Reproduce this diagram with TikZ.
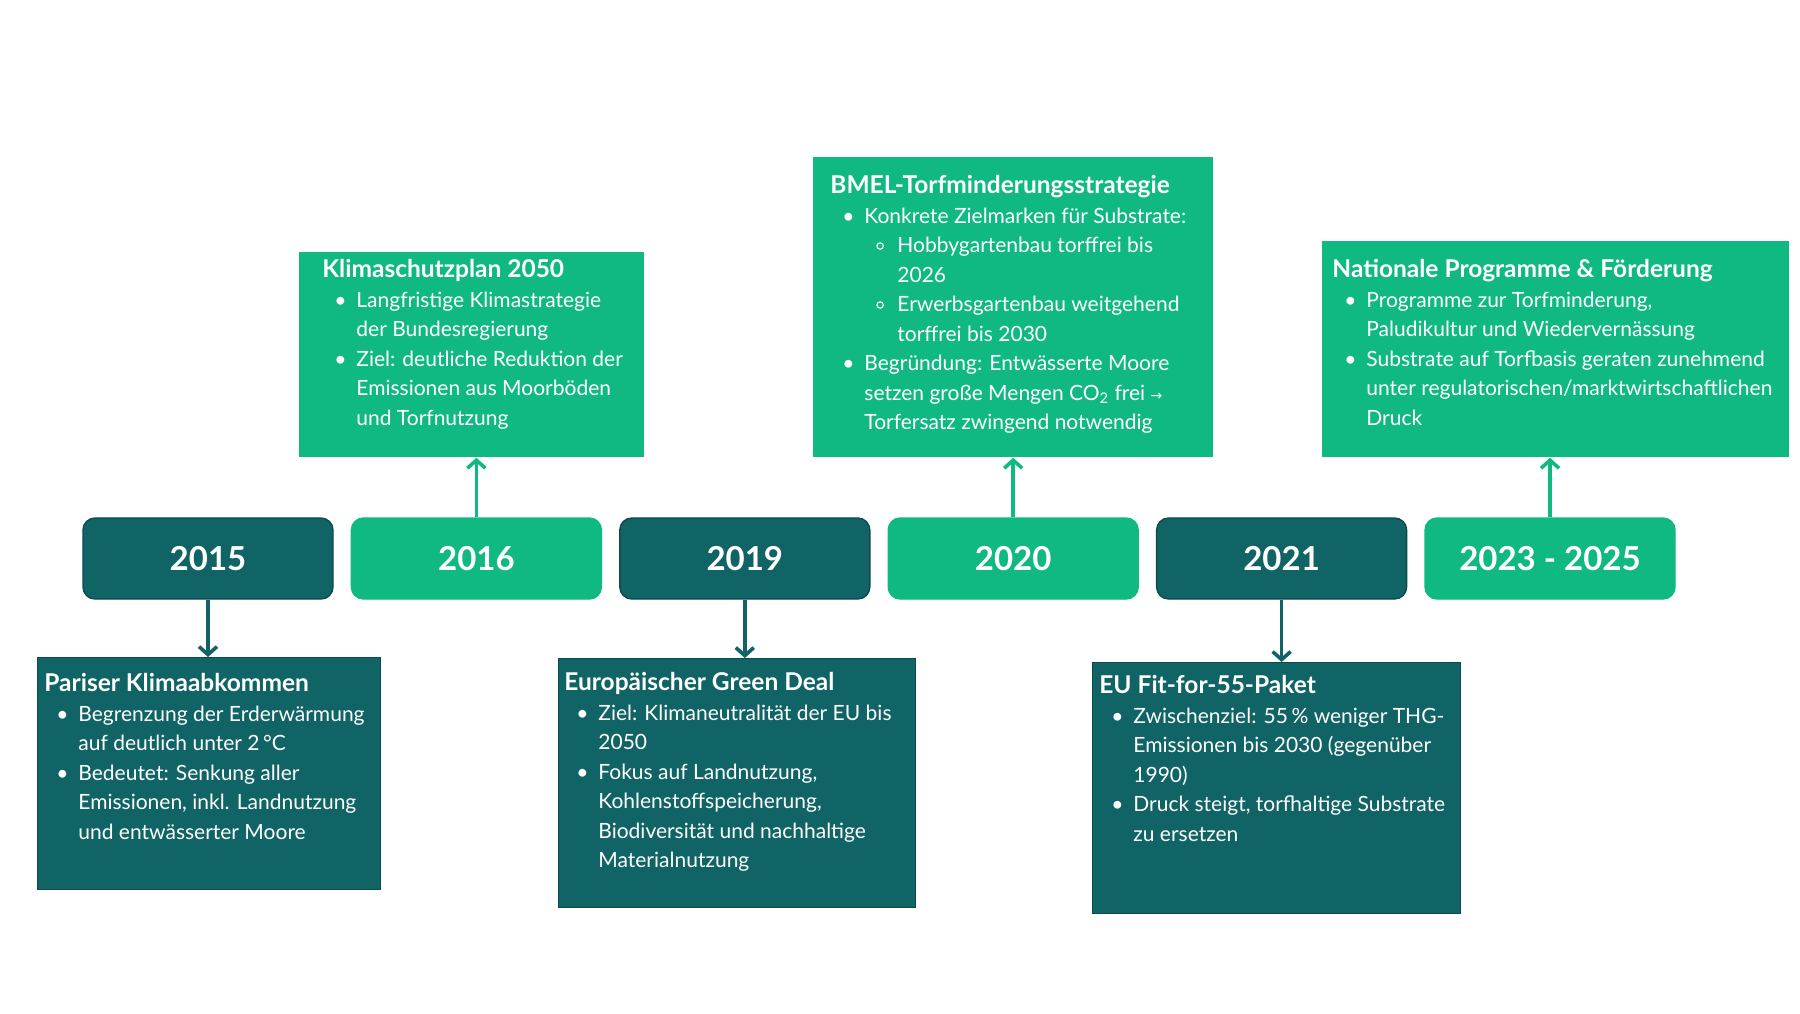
\documentclass[tikz,border=0pt]{standalone}
\usepackage{fontspec}
\setmainfont{Lato}
\newfontfamily\symfont{DejaVu Sans}
\usetikzlibrary{arrows.meta, positioning, backgrounds}
\definecolor{moorteal}{HTML}{116466}
\definecolor{tealedge}{HTML}{0B4B4D}
\definecolor{moorgreen}{HTML}{10B981}
\definecolor{linegray}{HTML}{E6EAED}
\tikzset{>=latex}
\newcommand{\cardtitle}[1]{{\fontsize{12.25}{14.75}\selectfont\bfseries #1}}
\newcommand{\itembul}{\hspace*{6pt}\makebox[11pt][l]{\textbullet}}
\newcommand{\contline}{\hspace*{17pt}}
\newcommand{\subbul}{\hspace*{23pt}\makebox[10.5pt][l]{\tikz[baseline=-3.3pt]\draw[white, line width=0.55pt] (0,0) circle (1.6pt);}}
\newcommand{\subline}{\hspace*{33.5pt}}
\tikzset{
  year/.style={rounded corners=6pt, minimum width=125pt, minimum height=40.5pt, inner sep=0pt,
    text=white, font=\fontsize{16.5}{20}\selectfont\bfseries},
  yeardark/.style={year, fill=moorteal, draw=tealedge, line width=0.7pt},
  yeargreen/.style={year, fill=moorgreen, draw=moorgreen, line width=0.7pt},
  card/.style={anchor=north west, inner sep=0pt},
  carddark/.style={card, fill=moorteal, draw=tealedge, line width=0.5pt},
  cardgreen/.style={card, fill=moorgreen},
  cardtext/.style={anchor=north west, inner sep=0pt, align=left, text=white,
    font=\fontsize{10.5}{14.75}\selectfont},
  downarrow/.style={draw=moorteal, line width=1.8pt, -{Straight Barb[length=4pt, width=9pt]}},
  uparrow/.style={draw=moorgreen, line width=1.8pt, -{Straight Barb[length=4pt, width=9pt]}},
  timeline/.style={draw=linegray, line width=2.5pt}
}
\begin{document}
\begin{tikzpicture}[x=0.5pt, y=-0.5pt]
\fill[white] (0,0) rectangle (1800,1013);
\useasboundingbox (0,0) rectangle (1800,1013);

% years
\node[yeardark]  (y2015) at (208,558.5)    {\raisebox{-1pt}{2015}};
\node[yeargreen] (y2016) at (476.4,558.5)  {\raisebox{-1pt}{2016}};
\node[yeardark]  (y2019) at (744.8,558.5)  {\raisebox{-1pt}{2019}};
\node[yeargreen] (y2020) at (1013.2,558.5) {\raisebox{-1pt}{2020}};
\node[yeardark]  (y2021) at (1281.6,558.5) {\raisebox{-1pt}{2021}};
\node[yeargreen] (y2023) at (1550,558.5)   {\raisebox{-1pt}{2023 - 2025}};
\begin{scope}[on background layer]
\draw[timeline] (y2015) -- (y2023);
\end{scope}

% cards below
\node[carddark, minimum width=171.5pt, minimum height=116pt] (paris) at (37,657) {};
\node[cardtext] (paristxt) at ([shift={(7,16)}]paris.north west) {\cardtitle{Pariser Klimaabkommen}\\
\itembul Begrenzung der Erderwärmung\\
\contline auf deutlich unter 2\,°C\\
\itembul Bedeutet: Senkung aller\\
\contline Emissionen, inkl. Landnutzung\\
\contline und entwässerter Moore};

\node[carddark, minimum width=178.5pt, minimum height=124.5pt] (gdeal) at (558,658) {};
\node[cardtext] (gdealtxt) at ([shift={(6,14)}]gdeal.north west) {\cardtitle{Europäischer Green Deal}\\
\itembul Ziel: Klimaneutralität der EU bis\\
\contline 2050\\
\itembul Fokus auf Landnutzung,\\
\contline Kohlenstoffspeicherung,\\
\contline Biodiversität und nachhaltige\\
\contline Materialnutzung};

\node[carddark, minimum width=184pt, minimum height=125.5pt] (fit) at (1092,662) {};
\node[cardtext] (fittxt) at ([shift={(7,13)}]fit.north west) {\cardtitle{EU Fit-for-55-Paket}\\
\itembul Zwischenziel: 55\,\% weniger THG-\\
\contline Emissionen bis 2030 (gegenüber\\
\contline 1990)\\
\itembul Druck steigt, torfhaltige Substrate\\
\contline zu ersetzen};

% cards above
\node[cardgreen, minimum width=172.5pt, minimum height=102.5pt] (plan) at (299,252) {};
\node[cardtext] (plantxt) at ([shift={(23,7)}]plan.north west) {\cardtitle{Klimaschutzplan 2050}\\
\itembul Langfristige Klimastrategie\\
\contline der Bundesregierung\\
\itembul Ziel: deutliche Reduktion der\\
\contline Emissionen aus Moorböden\\
\contline und Torfnutzung};

\node[cardgreen, minimum width=200pt, minimum height=150pt] (bmel) at (813,157) {};
\node[cardtext] (bmeltxt) at ([shift={(17,18)}]bmel.north west) {\cardtitle{BMEL-Torfminderungsstrategie}\\
\itembul Konkrete Zielmarken für Substrate:\\
\subbul Hobbygartenbau torffrei bis\\
\subline 2026\\
\subbul Erwerbsgartenbau weitgehend\\
\subline torffrei bis 2030\\
\itembul Begründung: Entwässerte Moore\\
\contline setzen große Mengen CO\textsubscript{2} frei {\symfont\scriptsize →}\\
\contline Torfersatz zwingend notwendig};

\node[cardgreen, minimum width=233.5pt, minimum height=108pt] (prog) at (1322,241) {};
\node[cardtext] (progtxt) at ([shift={(10,18)}]prog.north west) {\cardtitle{Nationale Programme \& Förderung}\\
\itembul Programme zur Torfminderung,\\
\contline Paludikultur und Wiedervernässung\\
\itembul Substrate auf Torfbasis geraten zunehmend\\
\contline unter regulatorischen/marktwirtschaftlichen\\
\contline Druck};

% arrows
\draw[downarrow] (y2015.south) -- (y2015.south |- paris.north);
\draw[downarrow] (y2019.south) -- (y2019.south |- gdeal.north);
\draw[downarrow] (y2021.south) -- (y2021.south |- fit.north);
\draw[uparrow] (y2016.north) -- (y2016.north |- plan.south);
\draw[uparrow] (y2020.north) -- (y2020.north |- bmel.south);
\draw[uparrow] (y2023.north) -- (y2023.north |- prog.south);
\end{tikzpicture}
\end{document}
